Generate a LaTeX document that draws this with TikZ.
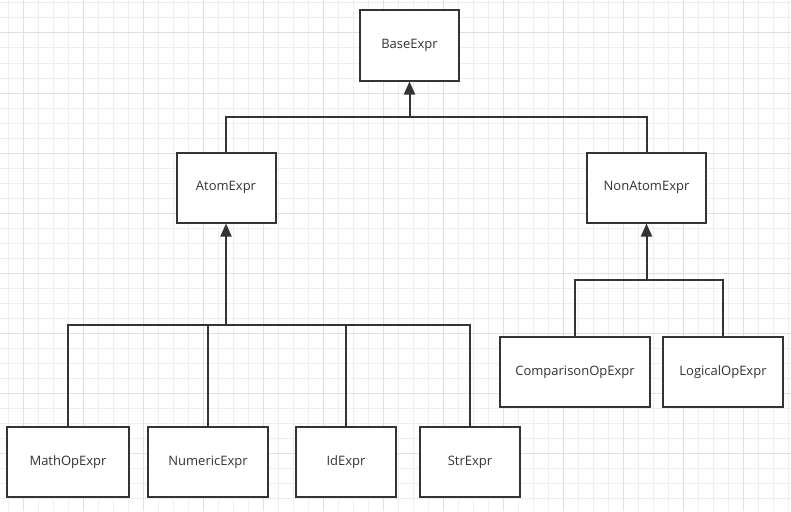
\documentclass[tikz,border=0pt]{standalone}
\usepackage{fontspec}
\setmainfont{Open Sans}
\usepackage{tikz}
\usetikzlibrary{arrows.meta}
\pgfdeclarelayer{background}
\pgfdeclarelayer{foreground}
\pgfsetlayers{background,main,foreground}
\definecolor{linegray}{HTML}{333333}
\definecolor{gridminor}{HTML}{EEEEEE}
\definecolor{gridmajor}{HTML}{E0E0E0}

\begin{document}
\begin{tikzpicture}[x=1pt,y=-1pt,
	boxnode/.style={draw=linegray, line width=2pt, fill=white, inner sep=0pt, minimum height=70pt, text=linegray, font=\fontsize{13}{15}\selectfont},
	link/.style={draw=linegray, line width=2pt},
	inherit/.style={link, -{Triangle[length=13pt,width=11pt]}},
	]
	\useasboundingbox (0,0) rectangle (791,511);
	%Nodes
	\node[boxnode, minimum width=99pt]  (base)       at (409.5,45.5) {BaseExpr};
	\node[boxnode, minimum width=99pt]  (atom)       at (226,187.5)  {AtomExpr};
	\node[boxnode, minimum width=119pt] (nonatom)    at (646.5,187.5) {NonAtomExpr};
	\node[boxnode, minimum width=150pt] (comparison) at (575,372)    {ComparisonOpExpr};
	\node[boxnode, minimum width=120pt] (logical)    at (723,372)    {LogicalOpExpr};
	\node[boxnode, minimum width=122pt] (mathop)     at (68,462)     {MathOpExpr};
	\node[boxnode, minimum width=120pt] (numeric)    at (208,462)    {NumericExpr};
	\node[boxnode, minimum width=100pt] (idexpr)     at (346,462)    {IdExpr};
	\node[boxnode, minimum width=100pt] (strexpr)    at (470,462)    {StrExpr};
	%Junctions
	\coordinate (jbase)    at (409.5,117);
	\coordinate (jatom)    at (226,325);
	\coordinate (jnonatom) at (646.5,280);

	\begin{pgfonlayer}{background}
	\foreach \x in {8,23,...,788} \draw[gridminor, line width=1pt] (\x,0) -- (\x,511);
	\foreach \y in {3,18,...,508} \draw[gridminor, line width=1pt] (0,\y) -- (791,\y);
	\foreach \x in {23,83,...,743} \draw[gridmajor, line width=1pt] (\x,0) -- (\x,511);
	\foreach \y in {33,93,...,453} \draw[gridmajor, line width=1pt] (0,\y) -- (791,\y);
	\end{pgfonlayer}

	\draw[link] (atom.north) |- (jbase) -| (nonatom.north);
	\draw[inherit] (jbase) -- (base);

	\draw[link] (mathop.north) |- (jatom) -| (strexpr.north);
	\draw[link] (numeric.north) -- (numeric.north |- jatom);
	\draw[link] (idexpr.north) -- (idexpr.north |- jatom);
	\draw[inherit] (jatom) -- (atom);

	\draw[link] (comparison.north) |- (jnonatom) -| (logical.north);
	\draw[inherit] (jnonatom) -- (nonatom);
\end{tikzpicture}
\end{document}
